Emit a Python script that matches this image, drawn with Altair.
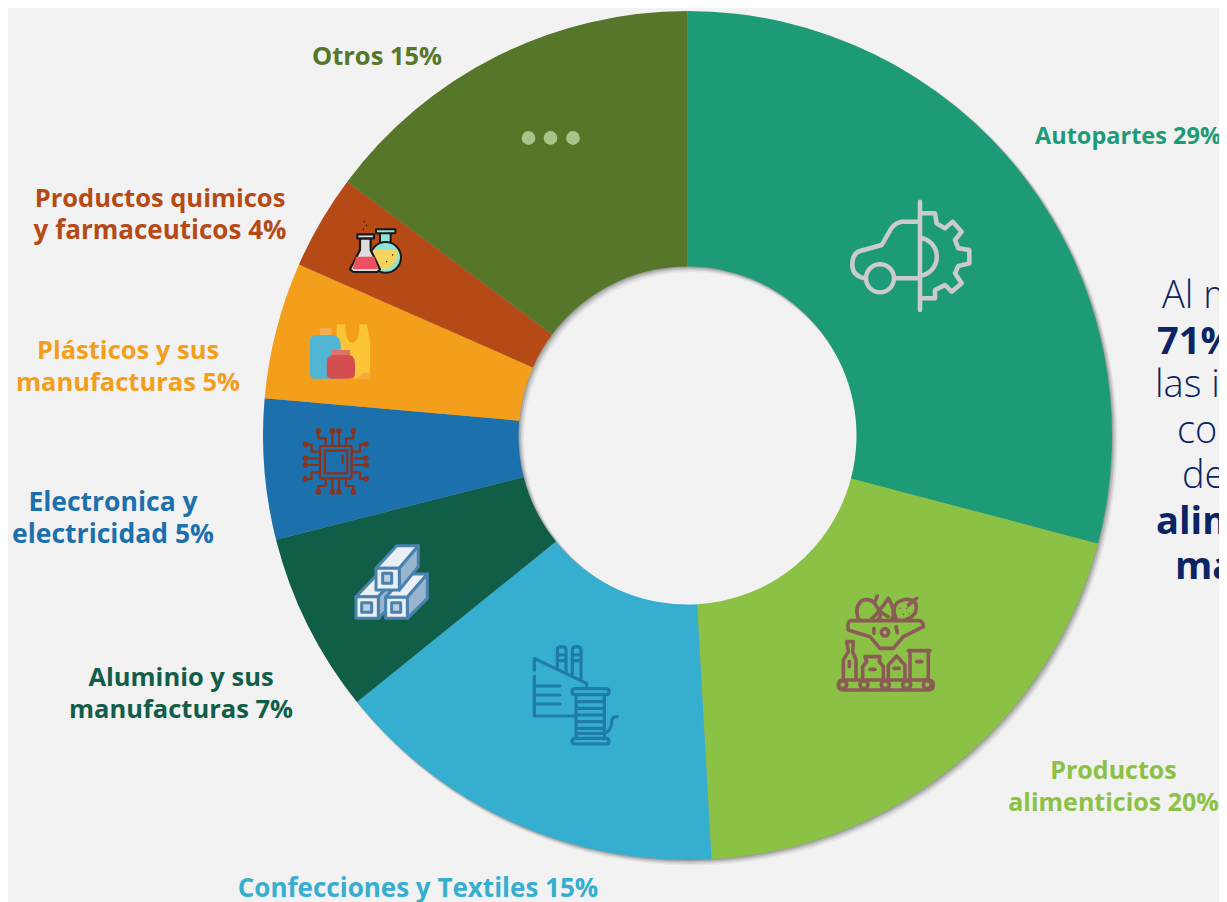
import altair as alt
import pandas as pd

categories = ["Autopartes", "Productos alimenticios", "Confecciones y Textiles",
              "Aluminio y sus manufacturas", "Electronica y electricidad",
              "Plásticos y sus manufacturas", "Productos quimicos y farmaceuticos", "Otros"]
values = [29.1, 20.0, 15.1, 6.85, 5.35, 5.2, 3.6, 14.8]
colors = ["#1d9b77", "#8bc145", "#35aed0", "#115e48", "#1c70ab", "#f39f1b", "#b64a17", "#56772a"]

BG = "#f2f2f2"
NAVY = "#0b2463"
FONT = "Open Sans"
W, H = 1211, 894
CX, CY = 687.5 - 8, 435.5 - 8
RO, RI = 424.5, 169

df = pd.DataFrame({"cat": categories, "val": values, "idx": range(len(values))})
one = pd.DataFrame({"a": [0]})
layers = []

# soft shadow under the ring
for dx, dy, grow, op in [(4, 4, 1.5, 0.05), (3, 3, 1, 0.08), (2, 2, 0.5, 0.12), (1, 1, 0, 0.15)]:
    layers.append(alt.Chart(one).mark_arc(theta=0, theta2=6.2832, outerRadius=RO + grow, innerRadius=RI - grow,
                                          color="#000000", opacity=op)
                  .encode(x=alt.value(CX + dx), y=alt.value(CY + dy)))

layers.append(alt.Chart(df).mark_arc(outerRadius=RO, innerRadius=RI).encode(
    theta=alt.Theta("val:Q", stack=True),
    order=alt.Order("idx:Q"),
    color=alt.Color("cat:N", scale=alt.Scale(domain=categories, range=colors), legend=None),
    x=alt.value(CX), y=alt.value(CY)))

# ---------- icon helpers: coordinates are those of a 3x crop, relative to its origin
def f(v):
    return f"{v / 3:.2f}"
def P(*c, close=False):
    s = "M" + " L".join(f"{f(c[i])} {f(c[i + 1])}" for i in range(0, len(c), 2))
    return s + (" Z" if close else "")
def Q(x0, y0, *segs):
    s = f"M{f(x0)} {f(y0)}"
    for seg in segs:
        if len(seg) == 2:
            s += f" L{f(seg[0])} {f(seg[1])}"
        else:
            s += f" Q{f(seg[0])} {f(seg[1])} {f(seg[2])} {f(seg[3])}"
    return s
def O(x, y, r):
    return f"M{f(x - r)} {f(y)} A{f(r)} {f(r)} 0 1 1 {f(x + r)} {f(y)} A{f(r)} {f(r)} 0 1 1 {f(x - r)} {f(y)} Z"
def R(x0, y0, x1, y1):
    return P(x0, y0, x1, y0, x1, y1, x0, y1, close=True)

def icon(ox, oy, d, fill="transparent", stroke="transparent", sw=0):
    layers.append(alt.Chart(one).mark_point(shape=d, size=4, fill=fill, stroke=stroke, strokeWidth=sw,
                                            opacity=1, fillOpacity=1, strokeOpacity=1,
                                            strokeCap="round", strokeJoin="round")
                  .encode(x=alt.value(ox - 8), y=alt.value(oy - 8)))

# car + gear
car = " ".join([
    P(300, 35, 300, 360),
    Q(300, 95, (245, 95), (225, 98, 212, 118), (185, 165), (120, 183), (97, 190, 97, 225), (97, 258, 135, 265)),
    O(180, 265, 42),
    P(222, 265, 300, 265),
    P(300, 70, 345, 70, 350, 100, 375, 115, 398, 95, 425, 125, 405, 150, 415, 175, 448, 180, 448, 220,
      415, 228, 405, 250, 425, 280, 395, 305, 375, 285, 345, 300, 345, 325, 300, 325),
    f"M{f(300)} {f(143)} A{f(58)} {f(58)} 0 0 1 {f(300)} {f(258)}",
])
icon(820, 190, car, stroke="#cbcbcb", sw=4.5)

# food line
food = " ".join([
    Q(70, 300, (325, 300), (340, 300, 340, 315), (340, 330, 325, 330), (70, 330), (55, 330, 55, 315), (55, 300, 70, 300)),
    P(70, 295, 70, 240, 85, 215, 80, 185, 100, 185, 98, 215, 108, 240, 108, 295),
    P(128, 295, 128, 260, 140, 245, 135, 230, 180, 230, 178, 245, 190, 260, 190, 295),
    P(205, 295, 205, 255, 230, 228, 255, 255, 255, 295),
    P(270, 295, 270, 215), P(265, 212, 330, 212), P(325, 215, 325, 295),
    P(88, 245, 88, 260), P(150, 268, 165, 268), P(222, 265, 238, 265), P(290, 245, 305, 245),
    Q(95, 122, (295, 122), (310, 122, 310, 140), (250, 170), (220, 205), (180, 205), (150, 170), (85, 150), (80, 122, 95, 122)),
    Q(118, 122, (100, 85, 125, 62), (150, 52, 165, 72), (190, 105, 175, 120)),
    P(165, 65, 172, 48),
    Q(150, 122, (175, 100, 205, 55), (230, 95, 215, 120)),
    P(180, 95, 205, 110),
    Q(230, 120, (205, 65, 260, 58), (300, 60, 285, 100), (265, 125, 230, 120)),
    P(265, 75, 290, 55),
    O(195, 157, 11), P(162, 145, 162, 160), P(228, 140, 232, 158),
])
icon(820, 580, food, stroke="#8c5b57", sw=3.6)
for x in (68, 132, 196, 260, 322):
    icon(820, 580, O(x, 314, 12), fill="#8bc145", stroke="#8c5b57", sw=3.6)
for xy in [(240, 85), (260, 85), (250, 103), (268, 100)]:
    icon(820, 580, O(xy[0], xy[1], 2.5), fill="#8c5b57")

# thread factory
thread = " ".join([
    P(73, 240, 73, 205, 230, 280, 230, 295), P(73, 258, 73, 378, 195, 378),
    P(75, 288, 150, 288), P(75, 315, 150, 315), P(75, 342, 150, 342),
    Q(142, 232, (142, 180), (142, 170, 155, 170), (168, 170, 168, 180), (168, 248)),
    Q(187, 255, (187, 180), (187, 170, 200, 170), (213, 170, 213, 180), (213, 268)),
    P(142, 195, 168, 195), P(142, 212, 168, 212), P(187, 195, 213, 195), P(187, 212, 213, 212),
    Q(195, 296, (288, 296), (297, 296, 297, 305), (297, 314, 288, 314), (195, 314), (186, 314, 186, 305), (186, 296, 195, 296)),
    Q(195, 445, (288, 445), (297, 445, 297, 454), (297, 462, 288, 462), (195, 462), (186, 462, 186, 454), (186, 445, 195, 445)),
    P(198, 315, 198, 445), P(283, 315, 283, 445),
    P(198, 335, 283, 335), P(198, 355, 283, 355), P(198, 375, 283, 375),
    P(198, 395, 283, 395), P(198, 415, 283, 415), P(198, 430, 283, 430),
    Q(285, 430, (305, 420, 305, 395), (305, 380, 322, 380)),
])
icon(510, 590, thread, stroke="#1f7bab", sw=3.2)

# crop 2 icons
O2 = (270, 200)
# aluminium blocks
ST = "#4a81ad"
for front, inner, top, side in [
    (R(258, 1190, 325, 1255), R(275, 1208, 305, 1237), P(258, 1190, 325, 1190, 380, 1130, 315, 1130, close=True),
     P(325, 1190, 380, 1130, 380, 1200, 325, 1255, close=True)),
    (R(347, 1192, 412, 1255), R(365, 1208, 392, 1237), P(347, 1192, 412, 1192, 472, 1122, 410, 1122, close=True),
     P(412, 1192, 472, 1122, 472, 1195, 412, 1255, close=True)),
    (R(318, 1105, 388, 1170), R(338, 1120, 365, 1150), P(318, 1105, 388, 1105, 445, 1037, 380, 1037, close=True),
     P(388, 1105, 445, 1037, 445, 1100, 388, 1170, close=True)),
]:
    icon(*O2, top, fill="#e9eff5", stroke=ST, sw=3)
    icon(*O2, side, fill="#97b5cf", stroke=ST, sw=3)
    icon(*O2, front, fill="#e9eff5", stroke=ST, sw=3)
    icon(*O2, inner, fill="#b9cfe0", stroke=ST, sw=3)

# microchip
chip = " ".join([
    R(150, 738, 245, 835), R(165, 752, 232, 820), P(218, 768, 218, 788),
    P(187, 738, 187, 698), P(207, 738, 207, 698), P(167, 738, 167, 715, 145, 715, 145, 698),
    P(228, 738, 228, 715, 250, 715, 250, 698),
    P(187, 835, 187, 872), P(207, 835, 207, 872), P(167, 835, 167, 858, 145, 858, 145, 872),
    P(228, 835, 228, 858, 250, 858, 250, 872),
    P(150, 775, 110, 775), P(150, 795, 110, 795), P(150, 755, 125, 755, 125, 733, 110, 733),
    P(150, 817, 125, 817, 125, 837, 110, 837),
    P(245, 775, 283, 775), P(245, 795, 283, 795), P(245, 755, 270, 755, 270, 733, 283, 733),
    P(245, 817, 270, 817, 270, 837, 283, 837),
    O(145, 693, 5), O(187, 693, 5), O(207, 693, 5), O(250, 693, 5),
    O(145, 876, 5), O(187, 876, 5), O(207, 876, 5), O(250, 876, 5),
    O(106, 733, 5), O(106, 775, 5), O(106, 795, 5), O(106, 837, 5),
    O(288, 733, 5), O(288, 775, 5), O(288, 795, 5), O(288, 837, 5),
])
icon(*O2, chip, stroke="#8e2f1a", sw=2.2)

# plastics
icon(*O2, Q(200, 373, (226, 373), (226, 428, 246, 428), (268, 428, 268, 373), (290, 373), (300, 420), (300, 536), (200, 536)), fill="#fcc437")
icon(*O2, P(258, 536, 300, 536, 300, 518, 280, 518, close=True), fill="#f8a843")
icon(*O2, R(150, 385, 185, 406), fill="#f2ae50")
icon(*O2, Q(140, 406, (195, 406), (212, 415, 212, 435), (212, 536), (130, 536), (120, 536, 120, 520), (120, 420), (120, 406, 140, 406)), fill="#52b5d4")
icon(*O2, R(185, 450, 240, 470), fill="#e0736a")
icon(*O2, Q(185, 465, (240, 465), (255, 470, 255, 490), (255, 520), (255, 536, 240, 536), (185, 536), (170, 536, 170, 520), (170, 490), (170, 470, 185, 465)), fill="#d34f50")

# chemistry flasks
icon(*O2, R(330, 98, 362, 135), fill="#8ee6d8", stroke="#1a1a1a", sw=2)
icon(*O2, O(347, 172, 46), fill="#8ee6d8", stroke="#1a1a1a", sw=2)
icon(*O2, Q(308, 150, (382, 150), (386, 195, 345, 208), (320, 210, 308, 190)), fill="#f5d45f")
icon(*O2, R(318, 88, 376, 100), fill="#8ee6d8", stroke="#1a1a1a", sw=2)
icon(*O2, P(270, 115, 270, 150, 240, 208, 250, 216, 322, 216, 330, 208, 302, 150, 302, 115, close=True), fill="#dddddd", stroke="#1a1a1a", sw=2.2)
icon(*O2, P(258, 170, 313, 170, 324, 207, 248, 207, close=True), fill="#ef5060")
icon(*O2, R(262, 103, 312, 115), fill="#dddddd", stroke="#1a1a1a", sw=2.2)
icon(*O2, " ".join([O(283, 65, 2), O(290, 76, 2), O(280, 88, 2), O(368, 165, 2), O(350, 185, 2)]), fill="#1a1a1a")

# three dots of "Otros"
for x in (528.5, 550.5, 573):
    layers.append(alt.Chart(one).mark_point(shape="circle", size=190, filled=True, color="#a9c489", opacity=1)
                  .encode(x=alt.value(x - 8), y=alt.value(138 - 8)))

# ---------- text
def text(s, x, y, color, size=25.5, weight="bold", align="center"):
    layers.append(alt.Chart(one).mark_text(text=s, font=FONT, fontSize=size, fontWeight=weight, color=color,
                                           align=align, baseline="middle")
                  .encode(x=alt.value(x - 8), y=alt.value(y - 8)))

text("Otros 15%", 377, 57, colors[7])
text("Autopartes 29%", 1035, 137, colors[0], size=23.5, align="left")
text("Productos quimicos", 160, 199, colors[6])
text("y farmaceuticos 4%", 160, 231, colors[6], size=26)
text("Plásticos y sus", 128, 351, colors[5])
text("manufacturas 5%", 128, 383, colors[5])
text("Electronica y", 113, 503, colors[4], size=26.5)
text("electricidad 5%", 113, 535, colors[4], size=26.5)
text("Aluminio y sus", 181, 678, colors[3])
text("manufacturas 7%", 181, 710, colors[3])
text("Productos", 1113.5, 771, colors[1], size=25)
text("alimenticios 20%", 1113.5, 803, colors[1], size=25)
text("Confecciones y Textiles 15%", 418, 889, colors[2], size=26)

for s, x, y, w in [("Al m", 1162, 297, 300), ("71%", 1157, 343, "bold"), ("las in", 1155, 386, 300),
                   ("co", 1177, 432, 300), ("de", 1182, 477, 300), ("alim", 1156, 523, "bold"),
                   ("ma", 1175, 568, "bold")]:
    text(s, x, y, NAVY, size=38, weight=w, align="left")

chart = alt.layer(*layers).properties(
    width=W, height=H, background=BG, padding=0,
    autosize=alt.AutoSizeParams(type="none"),
).configure_view(stroke=None)

chart.save("out.html", embed_options={"renderer": "svg", "actions": False})
